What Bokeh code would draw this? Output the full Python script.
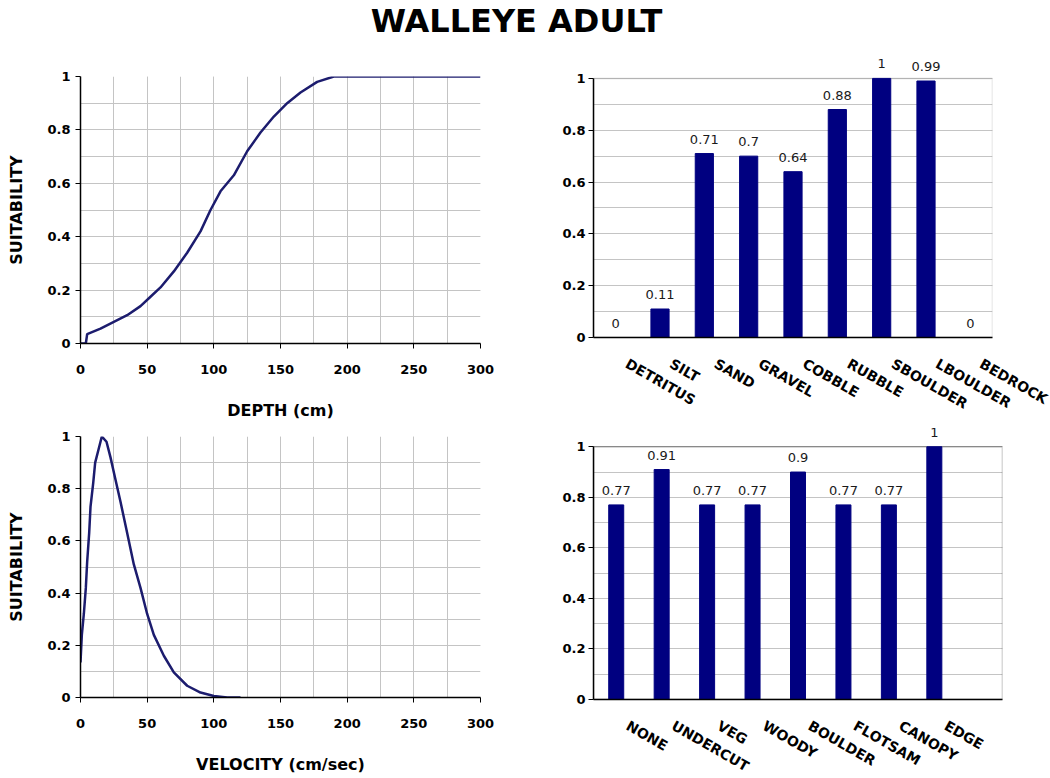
from bokeh.plotting import figure
from bokeh.layouts import column, row
from bokeh.models import (ColumnDataSource, LabelSet, Label, Range1d, BoxAnnotation,
                          SingleIntervalTicker, FixedTicker, CustomJSTickFormatter)
from bokeh.core.properties import value
from bokeh.embed import file_html
from bokeh.resources import INLINE

# ---- Habitat suitability curves -------------------------------------------
depth_cm = [0, 4, 5, 15, 25, 35, 45, 52.5, 60, 70, 80, 90, 97.5, 105, 115,
            125, 135, 145, 155, 165, 177.5, 190, 300]
depth_suit = [0, 0, 0.035, 0.056, 0.081, 0.106, 0.14, 0.175, 0.21, 0.27, 0.34,
              0.42, 0.50, 0.57, 0.63, 0.72, 0.79, 0.85, 0.90, 0.94, 0.98, 1.0, 1.0]

velocity_cms = [0, 1, 2.5, 4, 5, 6.5, 7.5, 9.5, 11, 14, 16, 19.5, 22.5, 26, 30,
                35, 40, 45, 50, 55, 62.5, 70, 80, 90, 100, 110, 120]
velocity_suit = [0.134, 0.24, 0.32, 0.42, 0.52, 0.63, 0.73, 0.82, 0.90, 0.96,
                 1.0, 0.98, 0.92, 0.84, 0.75, 0.63, 0.51, 0.42, 0.32, 0.24,
                 0.16, 0.096, 0.045, 0.019, 0.006, 0.0, 0.0]

# ---- Substrate and cover suitability --------------------------------------
substrate = ["DETRITUS", "SILT", "SAND", "GRAVEL", "COBBLE", "RUBBLE",
             "SBOULDER", "LBOULDER", "BEDROCK"]
substrate_suit = [0, 0.11, 0.71, 0.7, 0.64, 0.88, 1, 0.99, 0]

cover = ["NONE", "UNDERCUT", "VEG", "WOODY", "BOULDER", "FLOTSAM", "CANOPY", "EDGE"]
cover_suit = [0.77, 0.91, 0.77, 0.77, 0.9, 0.77, 0.77, 1]
cover_slots = 9

NAVY = "#000080"
LINE = "#1c1c6e"
GRID = "#c4c4c4"
FONT = "DejaVu Sans"

MAJOR_Y = [round(0.2 * i, 1) for i in range(6)]
MINOR_Y = [round(0.1 * i, 1) for i in range(11)]

y_fmt = CustomJSTickFormatter(code="return String(Math.round(tick * 10) / 10)")


def style_common(p):
    p.axis.axis_line_color = "black"
    p.axis.axis_line_width = 1.5
    p.axis.major_tick_line_color = "black"
    p.axis.minor_tick_line_color = None
    p.axis.major_tick_in = 0
    p.axis.major_label_text_font = FONT
    p.axis.major_label_text_font_style = "bold"
    p.axis.major_label_text_font_size = "13px"
    p.axis.major_label_text_color = "black"
    p.axis.axis_label_text_font = FONT
    p.axis.axis_label_text_font_style = "bold"
    p.axis.axis_label_text_font_size = "16px"
    p.axis.axis_label_text_color = "black"
    p.yaxis.ticker = FixedTicker(ticks=MAJOR_Y, minor_ticks=MINOR_Y)
    p.yaxis.formatter = y_fmt
    p.ygrid.grid_line_color = GRID
    p.ygrid.minor_grid_line_color = GRID
    p.background_fill_color = "white"
    p.border_fill_color = "white"


def curve_panel(x, y, xlabel, fh, top, bottom):
    p = figure(frame_width=400, frame_height=fh,
               min_border_left=80, min_border_right=60,
               min_border_top=top, min_border_bottom=bottom,
               x_range=Range1d(0, 300), y_range=Range1d(0, 1),
               output_backend="svg", toolbar_location=None)
    p.line(x, y, line_color=LINE, line_width=2.5)
    style_common(p)
    p.xaxis.ticker = SingleIntervalTicker(interval=50, num_minor_ticks=2)
    p.xgrid.grid_line_color = GRID
    p.xgrid.minor_grid_line_color = GRID
    p.axis.major_tick_out = 5
    p.xaxis.major_label_standoff = 16
    p.yaxis.major_label_standoff = 5
    p.xaxis.axis_label = xlabel
    p.yaxis.axis_label = "SUITABILITY"
    p.xaxis.axis_label_standoff = 24
    p.yaxis.axis_label_standoff = 18
    p.outline_line_color = None
    return p


def bar_panel(names, values, slots, bar_w, fw, fh, top, bottom, left, right, outline):
    # the frame reaches a little above 1 so that value labels over full bars show
    head = 0.1
    idx = list(range(len(names)))
    src = ColumnDataSource(dict(x=idx, top=values,
                                label=[f"{v:g}" for v in values]))
    p = figure(frame_width=fw, frame_height=round(fh * (1 + head)),
               min_border_left=left, min_border_right=right,
               min_border_top=top, min_border_bottom=bottom,
               x_range=Range1d(-0.5, slots - 0.5), y_range=Range1d(0, 1 + head),
               output_backend="svg", toolbar_location=None)
    p.vbar(x="x", top="top", width=bar_w, source=src,
           fill_color=NAVY, line_color=NAVY)
    p.add_layout(LabelSet(x="x", y="top", text="label", source=src,
                          y_offset=10, text_align="center", text_baseline="bottom",
                          text_font=value(FONT), text_font_size="13px",
                          text_color="#1a1a1a"))
    style_common(p)
    p.yaxis.bounds = (0, 1)
    p.xgrid.grid_line_color = None
    # slanted category names start a quarter slot right of each bar
    label_pos = [i + 0.25 for i in idx]
    p.xaxis.ticker = FixedTicker(ticks=label_pos)
    p.xaxis.major_label_overrides = {pos: n for pos, n in zip(label_pos, names)}
    p.xaxis.major_label_orientation = -0.52
    p.xaxis.major_label_text_font_size = "14px"
    p.xaxis.major_tick_line_color = None
    p.xaxis.major_tick_out = 0
    p.xaxis.major_label_standoff = 25
    p.yaxis.major_tick_out = 5
    p.yaxis.major_label_standoff = 3
    p.outline_line_color = None
    p.add_layout(BoxAnnotation(left=-0.5, right=slots - 0.5, bottom=0, top=1,
                               fill_color=None, line_color=outline, line_width=1.5,
                               level="underlay"))
    return p


# ---- Title strip ----------------------------------------------------------
title = figure(width=1050, height=50, x_range=Range1d(0, 1), y_range=Range1d(0, 1),
               min_border=0, output_backend="svg", toolbar_location=None)
title.axis.visible = False
title.grid.visible = False
title.outline_line_color = None
title.add_layout(Label(x=516, y=30, x_units="screen", y_units="screen",
                       text="WALLEYE ADULT", text_align="center",
                       text_baseline="middle", text_font=FONT,
                       text_font_style="bold", text_font_size="32px",
                       text_color="black"))

depth_p = curve_panel(depth_cm, depth_suit, "DEPTH (cm)", 267, 26, 79)
vel_p = curve_panel(velocity_cms, velocity_suit, "VELOCITY (cm/sec)", 261, 14, 81)
sub_p = bar_panel(substrate, substrate_suit, len(substrate), 0.41,
                  399, 259, 2, 83, 53, 58, "#8a8a8a")
cov_p = bar_panel(cover, cover_suit, cover_slots, 0.33,
                  409, 253, 0, 80, 53, 48, "black")

layout = column(title, row(column(depth_p, vel_p), column(sub_p, cov_p)))

open("out.html", "w").write(file_html(layout, INLINE))
